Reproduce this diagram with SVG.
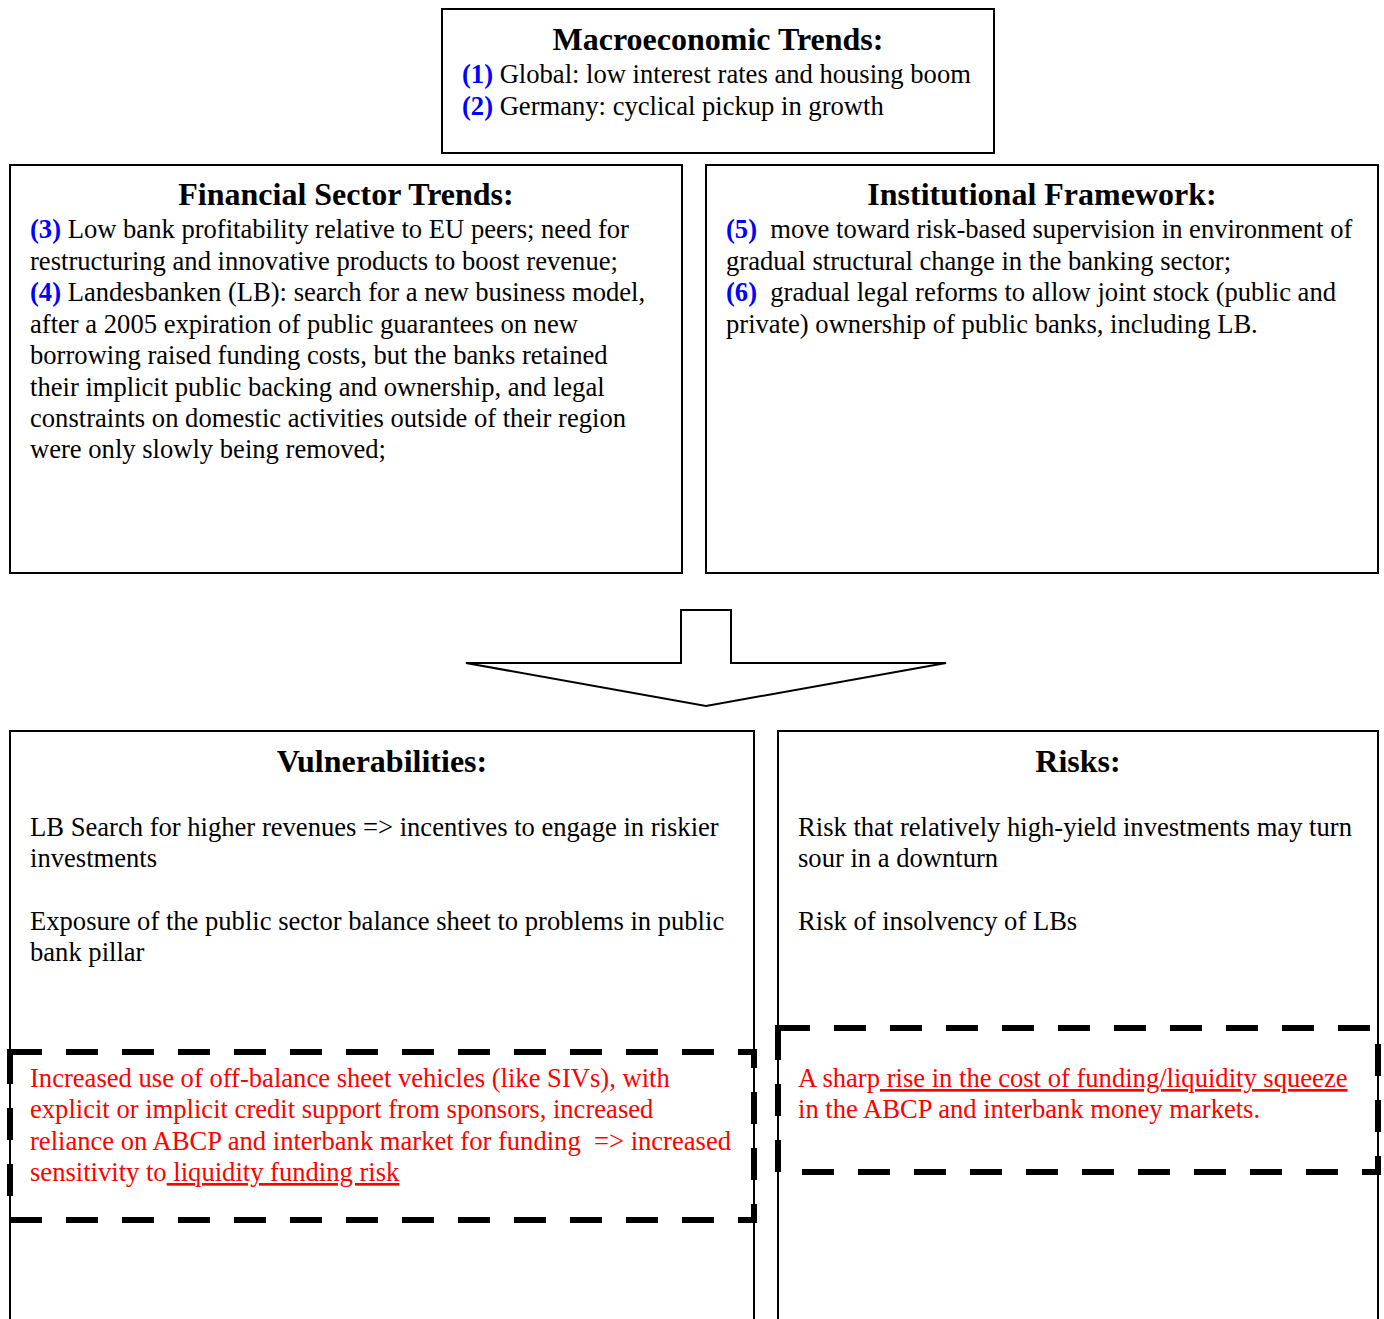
<svg xmlns="http://www.w3.org/2000/svg" width="1384" height="1319" viewBox="0 0 1384 1319">
<style>
.box{fill:#fff;stroke:#000;stroke-width:2}
.dash{fill:none;stroke:#000;stroke-width:6;stroke-dasharray:32 24}
text{font-size:26.6px;fill:#000;white-space:pre}
.h{font-weight:bold;font-size:32px;text-anchor:middle}
.n{fill:#0000ff;font-weight:bold}
.r{fill:#ff0000}
.u{text-decoration:underline}
</style>
<rect width="1384" height="1319" fill="#fff"/>
<g font-family="Liberation Serif, Times New Roman, serif">
<g id="macro">
<rect class="box" x="442" y="9" width="552" height="144"/>
<text class="h" x="718" y="50">Macroeconomic Trends:</text>
<text x="462" y="83"><tspan class="n">(1)</tspan> Global: low interest rates and housing boom</text>
<text x="462" y="115"><tspan class="n">(2)</tspan> Germany: cyclical pickup in growth</text>
</g>
<g id="financial">
<rect class="box" x="10" y="165" width="672" height="408"/>
<text class="h" x="346" y="205">Financial Sector Trends:</text>
<text x="30" y="238"><tspan class="n">(3)</tspan> Low bank profitability relative to EU peers; need for</text>
<text x="30" y="270">restructuring and innovative products to boost revenue;</text>
<text x="30" y="301"><tspan class="n">(4)</tspan> Landesbanken (LB): search for a new business model,</text>
<text x="30" y="333">after a 2005 expiration of public guarantees on new</text>
<text x="30" y="364">borrowing raised funding costs, but the banks retained</text>
<text x="30" y="396">their implicit public backing and ownership, and legal</text>
<text x="30" y="427">constraints on domestic activities outside of their region</text>
<text x="30" y="458">were only slowly being removed;</text>
</g>
<g id="institutional">
<rect class="box" x="706" y="165" width="672" height="408"/>
<text class="h" x="1042" y="205">Institutional Framework:</text>
<text x="726" y="238"><tspan class="n">(5)</tspan>  move toward risk-based supervision in environment of</text>
<text x="726" y="270">gradual structural change in the banking sector;</text>
<text x="726" y="301"><tspan class="n">(6)</tspan>  gradual legal reforms to allow joint stock (public and</text>
<text x="726" y="333">private) ownership of public banks, including LB.</text>
</g>
<g id="connectors">
<polygon points="466,663 681,663 681,610 731,610 731,663 946,663 706,706" fill="#fff" stroke="#000" stroke-width="2"/>
</g>
<g id="vulnerabilities">
<rect class="box" x="10" y="731" width="744" height="610"/>
<text class="h" x="382" y="772">Vulnerabilities:</text>
<text x="30" y="836">LB Search for higher revenues =&gt; incentives to engage in riskier</text>
<text x="30" y="867">investments</text>
<text x="30" y="930">Exposure of the public sector balance sheet to problems in public</text>
<text x="30" y="961">bank pillar</text>
</g>
<g id="risks">
<rect class="box" x="778" y="731" width="600" height="610"/>
<text class="h" x="1078" y="772">Risks:</text>
<text x="798" y="836">Risk that relatively high-yield investments may turn</text>
<text x="798" y="867">sour in a downturn</text>
<text x="798" y="930">Risk of insolvency of LBs</text>
</g>
<g id="vuln-liquidity">
<rect class="dash" x="10" y="1052" width="744" height="168"/>
<text class="r" x="30" y="1087">Increased use of off-balance sheet vehicles (like SIVs), with</text>
<text class="r" x="30" y="1118">explicit or implicit credit support from sponsors, increased</text>
<text class="r" x="30" y="1150">reliance on ABCP and interbank market for funding  =&gt; increased</text>
<text class="r" x="30" y="1181">sensitivity to<tspan class="u"> liquidity funding risk</tspan></text>
</g>
<g id="risk-liquidity">
<rect class="dash" x="778" y="1028" width="600" height="144"/>
<text class="r" x="798" y="1087">A sharp<tspan class="u"> rise in the cost of funding/liquidity squeeze</tspan></text>
<text class="r" x="798" y="1118">in the ABCP and interbank money markets.</text>
</g>
</g>
</svg>
